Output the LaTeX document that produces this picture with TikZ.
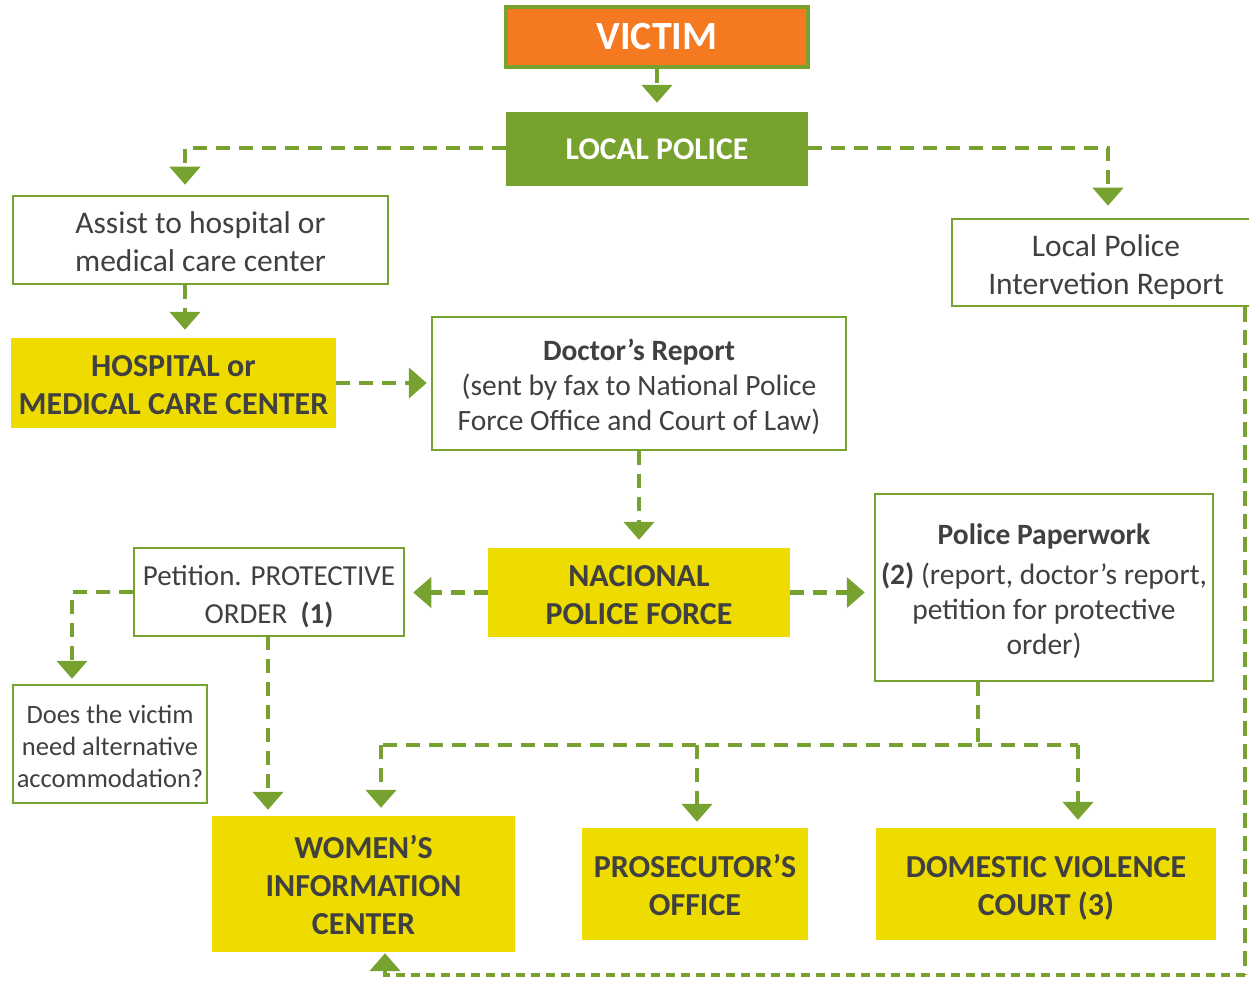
\documentclass[tikz,border=0pt]{standalone}
\usepackage{fontspec}
\setmainfont{Carlito}
\usetikzlibrary{arrows.meta}
\definecolor{grn}{HTML}{78A22F}
\definecolor{org}{HTML}{F47920}
\definecolor{yel}{HTML}{EEDC00}
\definecolor{txt}{HTML}{404040}
\newcommand\topst{\rule{0pt}{\dimexpr0.88em+8pt\relax}}
\newcommand\botst{\rule[-0.32em]{0pt}{0.32em}}
\tikzset{
  wbox/.style={draw=grn, line width=2.5pt, fill=white, text=txt, align=center, inner sep=0pt,
    font=\fontsize{31.5}{38}\selectfont},
  ybox/.style={fill=yel, text=txt, align=center, inner sep=0pt,
    font=\fontsize{32}{38}\selectfont\bfseries},
  conn/.style={draw=grn, line width=4.5pt, dash pattern=on 14pt off 9pt,
    -{Triangle[width=30pt,length=18pt]}},
  plainconn/.style={draw=grn, line width=4.5pt, dash pattern=on 14pt off 9pt},
  fine/.style={dash pattern=on 9pt off 6pt},
}
\begin{document}
\begin{tikzpicture}[x=1pt,y=-1pt]
\useasboundingbox (0,0) rectangle (1249,981);
% nodes
\node[draw=grn, line width=4pt, fill=org, text=white, inner sep=0pt,
  minimum width=302pt, minimum height=60pt, font=\fontsize{40}{42}\selectfont\bfseries]
  (victim) at (657,37) {VICTIM};
\node[fill=grn, text=white, inner sep=0pt, minimum width=302pt, minimum height=74pt,
  font=\fontsize{31.6}{34}\selectfont\bfseries] (police) at (657,149) {LOCAL POLICE};
\node[wbox, minimum width=375pt, minimum height=88pt] (assist) at (200.5,240)
  {\topst Assist to hospital or\\medical care center\botst};
\node[wbox, minimum width=308pt, minimum height=87pt] (interv) at (1106,262.5)
  {\topst Local Police\\Intervetion Report\botst};
\node[ybox, minimum width=325pt, minimum height=90pt] (hosp) at (173.5,383)
  {\topst HOSPITAL or\\MEDICAL CARE CENTER\botst};
\node[wbox, minimum width=414pt, minimum height=133pt, font=\fontsize{29.5}{35}\selectfont] (doctor) at (639,383.5)
  {\topst\textbf{Doctor’s Report}\\(sent by fax to National Police\\Force Office and Court of Law)\botst};
\node[ybox, minimum width=302pt, minimum height=89pt] (nac) at (639,592.5)
  {\topst NACIONAL\\POLICE FORCE\botst};
\node[wbox, minimum width=270pt, minimum height=88pt, font=\fontsize{29}{38}\selectfont] (petition) at (269,592)
  {\topst Petition. PROTECTIVE\\ORDER\ \ \textbf{(1)}\botst};
\node[wbox, minimum width=338pt, minimum height=187pt, font=\fontsize{29.5}{35}\selectfont] (paper) at (1044,587.5)
  {\topst\textbf{Police Paperwork}\\[5pt]\textbf{(2)} (report, doctor’s report,\\petition for protective\\order)\botst};
\node[wbox, minimum width=194pt, minimum height=118pt, font=\fontsize{26.5}{32}\selectfont] (does) at (110,744)
  {\topst Does the victim\\need alternative\\accommodation?\botst};
\node[ybox, minimum width=303pt, minimum height=136pt] (women) at (363.5,884)
  {\topst WOMEN’S\\INFORMATION\\CENTER\botst};
\node[ybox, minimum width=226pt, minimum height=112pt] (prosec) at (695,884)
  {\topst PROSECUTOR’S\\OFFICE\botst};
\node[ybox, minimum width=340pt, minimum height=112pt] (domestic) at (1046,884)
  {\topst DOMESTIC VIOLENCE\\COURT (3)\botst};
% junction coordinates
\coordinate (jl) at (185,148);
\coordinate (jr) at (1108,148);
\coordinate (jp) at (72,592);
\coordinate (jq) at (268,636);
\coordinate (jb) at (978,745);
\coordinate (jw) at (381,745);
\coordinate (jpr) at (697,745);
\coordinate (jd) at (1078,745);
\coordinate (rb) at (1245,975);
\coordinate (lb) at (385,975);
% connectors
\draw[conn, shorten >=9pt] (victim.south) -- (police.north);
\draw[conn, shorten >=10pt] (police.west |- jl) -- (jl) -- (jl |- assist.north);
\draw[conn, shorten >=12pt] (police.east |- jr) -- (jr) -- (jr |- interv.north);
\draw[conn, shorten >=8pt] (jl |- assist.south) -- (jl |- hosp.north);
\draw[conn, shorten >=4pt] (hosp.east) -- (hosp.east -| doctor.west);
\draw[conn, shorten >=8pt] (doctor.south) -- (nac.north);
\draw[conn, shorten >=8pt] (nac.west) -- (nac.west -| petition.east);
\draw[conn, shorten >=9pt] (nac.east) -- (nac.east -| paper.west);
\draw[conn, shorten >=5pt] (petition.west) -- (jp) -- (jp |- does.north);
\draw[conn, shorten >=6pt] (jq) -- (jq |- women.north);
\draw[plainconn] (jb |- paper.south) -- (jb) -- (jw);
\draw[plainconn] (jb) -- (jd);
\draw[conn, shorten >=8pt] (jw) -- (jw |- women.north);
\draw[conn, shorten >=6pt] (jpr) -- (jpr |- prosec.north);
\draw[conn, shorten >=8pt] (jd) -- (jd |- domestic.north);
\draw[plainconn, dash pattern=on 15pt off 8pt] (rb |- interv.south) -- (rb);
\draw[conn, fine, shorten >=1pt] (rb) -- (lb) -- (lb |- women.south);
\end{tikzpicture}
\end{document}
